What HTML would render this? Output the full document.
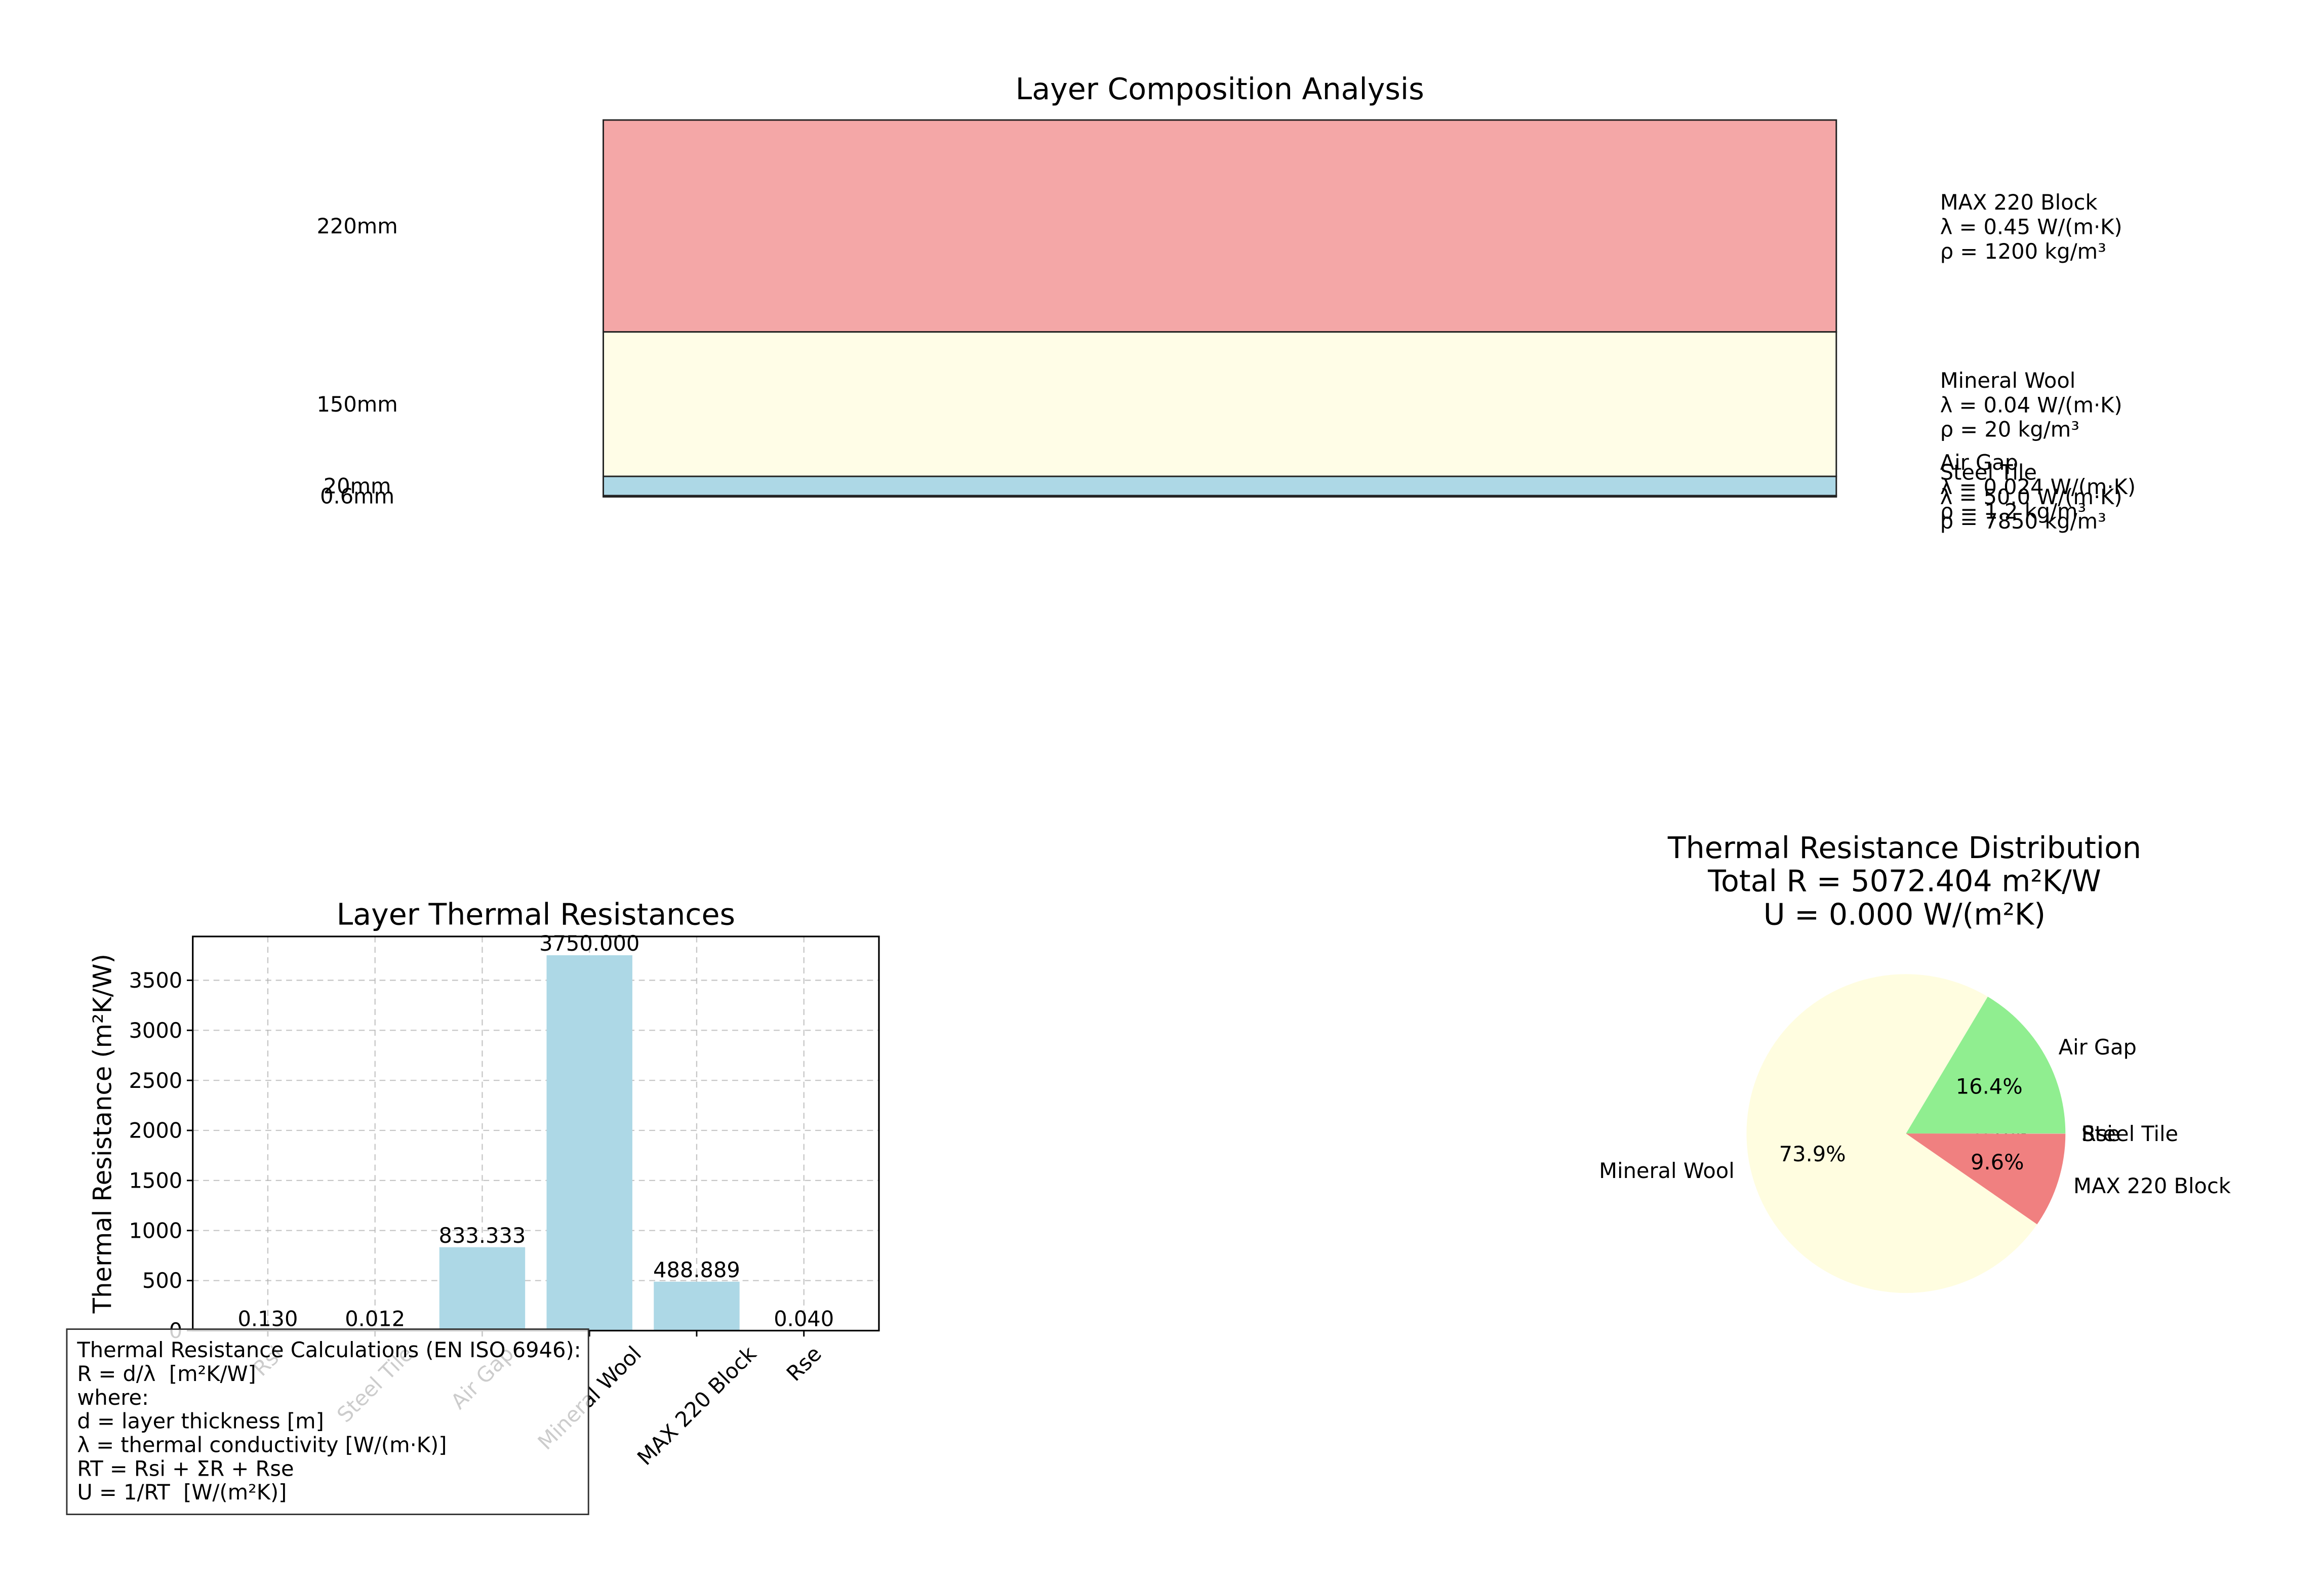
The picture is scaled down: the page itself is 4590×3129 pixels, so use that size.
<!DOCTYPE html>
<html><head><meta charset="utf-8"><style>
html,body{margin:0;padding:0;background:#fff}
svg{display:block;font-family:"DejaVu Sans","Liberation Sans",sans-serif}
.pre{white-space:pre}
</style></head><body>
<svg id="fig" width="4590" height="3129" viewBox="0 0 1568 1069" xmlns="http://www.w3.org/2000/svg">
<rect width="1568" height="1069" fill="#fff"/>
<g id="topchart"></g>
<g id="barchart"></g>
<g id="piechart"></g>
</svg>
<script>
const layerNames=["MAX 220 Block","Mineral Wool","Air Gap","Steel Tile"];
const layerThick=[220,150,20,0.6];
const layerThickLabels=["220mm","150mm","20mm","0.6mm"];
const layerLambda=["0.45","0.04","0.024","50.0"];
const layerRho=["1200","20","1.2","7850"];
const layerColors=["#f4a7a7","#fffde7","#add8e6","#b0b0b0"];

const barCats=["Rsi","Steel Tile","Air Gap","Mineral Wool","MAX 220 Block","Rse"];
const barVals=[0.130,0.012,833.333,3750.000,488.889,0.040];
const yTicks=[0,500,1000,1500,2000,2500,3000,3500];

const pieLabels=["Rsi","Steel Tile","Air Gap","Mineral Wool","MAX 220 Block","Rse"];
const pieVals=[0.130,0.012,833.333,3750.000,488.889,0.040];
const pieColors=["#add8e6","#d3d3d3","#90ee90","#fffde0","#f08080","#e0e0e0"];

const NS="http://www.w3.org/2000/svg";
const FS=14.2;
function mk(parent,tag,attrs,text){const e=document.createElementNS(NS,tag);for(const k in attrs)e.setAttribute(k,attrs[k]);if(text!==undefined)e.textContent=text;parent.appendChild(e);return e;}

// ---- Top chart ----
const topG=document.getElementById('topchart');
let t=mk(topG,'text',{x:823,y:67,'text-anchor':'middle','font-size':20},"Layer Composition Analysis");


const pxPerMm=143/220;
let cy=81;
layerNames.forEach((n,i)=>{
  const h=layerThick[i]*pxPerMm;
  const r=mk(topG,'rect',{x:407,y:cy,width:832,height:Math.max(h,0.8),fill:layerColors[i],stroke:'#222','stroke-width':1});
  
  
  const mid=cy+h/2;
  const l=mk(topG,'text',{x:241,y:mid+5,'text-anchor':'middle','font-size':FS},layerThickLabels[i]);
  
  
  const g=mk(topG,'text',{x:1309,y:mid-11,'font-size':FS});
  
  
  [n,"λ = "+layerLambda[i]+" W/(m·K)","ρ = "+layerRho[i]+" kg/m³"].forEach((s,k)=>mk(g,'tspan',{x:1309,dy:k?16.5:0},s));
  cy+=h;
});

// ---- Bar chart ----
const barG=document.getElementById('barchart');
const ax={l:130,r:593,t:632,b:898};
const yMax=3937.5;
const ys=v=>ax.b-(v/yMax)*(ax.b-ax.t);
const xs=i=>ax.l+(i+0.7)*((ax.r-ax.l)/6.4);
const bw=0.8*((ax.r-ax.l)/6.4);
t=mk(barG,'text',{x:361.5,y:624,'text-anchor':'middle','font-size':20},"Layer Thermal Resistances");


yTicks.forEach(v=>{
  const gl=mk(barG,'line',{x1:ax.l,x2:ax.r,y1:ys(v),y2:ys(v),stroke:'#b0b0b0','stroke-dasharray':'4,3','stroke-width':0.8,opacity:0.7});
  
  
  mk(barG,'line',{x1:ax.l-4,x2:ax.l,y1:ys(v),y2:ys(v),stroke:'#000'});
  const tl=mk(barG,'text',{x:ax.l-7,y:ys(v)+5,'text-anchor':'end','font-size':FS},String(v));
  
  
});
barCats.forEach((c,i)=>{
  const gl=mk(barG,'line',{x1:xs(i),x2:xs(i),y1:ax.t,y2:ax.b,stroke:'#b0b0b0','stroke-dasharray':'4,3','stroke-width':0.8,opacity:0.7});
  
  
});
barCats.forEach((c,i)=>{
  const b=mk(barG,'rect',{x:xs(i)-bw/2,y:ys(barVals[i]),width:bw,height:ax.b-ys(barVals[i]),fill:'#add8e6'});
  
  
  const v=mk(barG,'text',{x:xs(i),y:ys(barVals[i])-3,'text-anchor':'middle','font-size':FS},barVals[i].toFixed(3));
  
  
  mk(barG,'line',{x1:xs(i),x2:xs(i),y1:ax.b,y2:ax.b+4,stroke:'#000'});
  const tl=mk(barG,'text',{x:0,y:0,'text-anchor':'middle','dominant-baseline':'central','font-size':FS},c);
  
  
  const w=tl.getComputedTextLength();
  const cyy=ax.b+8+(w+FS)*0.354;
  tl.setAttribute('transform',`translate(${xs(i)},${cyy}) rotate(-45)`);
});
let fr=mk(barG,'rect',{x:ax.l,y:ax.t,width:ax.r-ax.l,height:ax.b-ax.t,fill:'none',stroke:'#000','stroke-width':1.1});


t=mk(barG,'text',{x:0,y:0,'text-anchor':'middle','font-size':17,transform:'translate(75,765) rotate(-90)'},"Thermal Resistance (m²K/W)");


const box=mk(barG,'rect',{x:45,y:897,width:352,height:125,fill:'#fff','fill-opacity':0.8,stroke:'#333','stroke-width':1});


const ft=mk(barG,'text',{x:52,y:916,'font-size':FS,'class':'pre'});


["Thermal Resistance Calculations (EN ISO 6946):","R = d/λ  [m²K/W]","where:","d = layer thickness [m]","λ = thermal conductivity [W/(m·K)]","RT = Rsi + ΣR + Rse","U = 1/RT  [W/(m²K)]"].forEach((s,k)=>mk(ft,'tspan',{x:52,dy:k?16:0},s));

// ---- Pie ----
const pieG=document.getElementById('piechart');
t=mk(pieG,'text',{x:1285,y:579,'text-anchor':'middle','font-size':20});


["Thermal Resistance Distribution","Total R = 5072.404 m²K/W","U = 0.000 W/(m²K)"].forEach((s,k)=>mk(t,'tspan',{x:1285,dy:k?22.5:0},s));
const pcx=1286,pcy=765,pr=107.6;
const tot=pieVals.reduce((a,b)=>a+b,0);
let a0=0;
pieVals.forEach((v,i)=>{
  const frac=v/tot, a1=a0+frac*2*Math.PI;
  const x0=pcx+pr*Math.cos(a0),y0=pcy-pr*Math.sin(a0),x1=pcx+pr*Math.cos(a1),y1=pcy-pr*Math.sin(a1);
  const large=(a1-a0)>Math.PI?1:0;
  const p=mk(pieG,'path',{d:`M${pcx},${pcy} L${x0},${y0} A${pr},${pr} 0 ${large} 0 ${x1},${y1} Z`,fill:pieColors[i]});
  
  
  const am=(a0+a1)/2;
  const lx=pcx+1.1*pr*Math.cos(am), ly=pcy-1.1*pr*Math.sin(am);
  const lab=mk(pieG,'text',{x:lx,y:ly+5,'text-anchor':Math.cos(am)>=0?'start':'end','font-size':FS},pieLabels[i]);
  
  
  if(frac>0.0004 || i===1){
    const px=pcx+0.6*pr*Math.cos(am), py=pcy-0.6*pr*Math.sin(am);
    const pt=mk(pieG,'text',{x:px,y:py+5,'text-anchor':'middle','font-size':FS},(frac*100).toFixed(1)+'%');
    
    
  }
  a0=a1;
});
</script>
</body></html>
